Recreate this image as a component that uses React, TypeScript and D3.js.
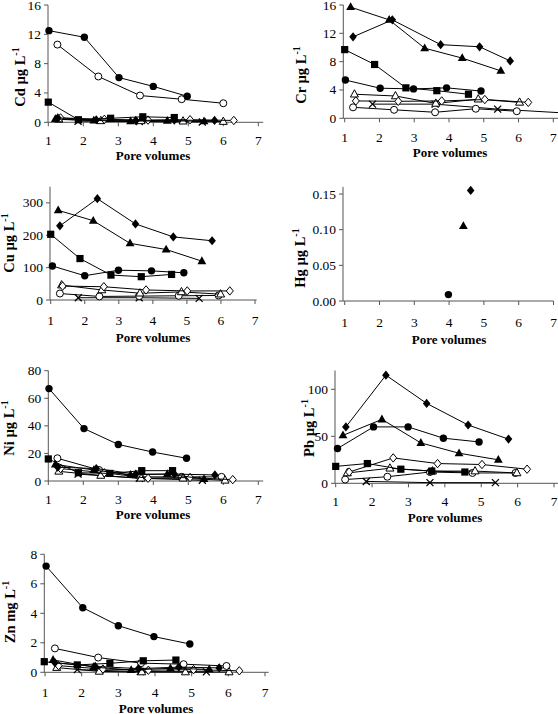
import React from 'react';
import * as d3 from 'd3';

type Pt = [number, number];
type Key = 'fc' | 'oc' | 'fs' | 'ft' | 'ot' | 'fd' | 'od' | 'x';

const poreTicks = [1, 2, 3, 4, 5, 6, 7];
const seriesOrder: Key[] = ['x', 'oc', 'ot', 'od', 'fs', 'fc', 'ft', 'fd'];

// ---- Cd (µg/L)
const cdData: Partial<Record<Key, Pt[]>> = {
  fc: [[1.02, 12.5], [2.03, 11.6], [3.02, 6.1], [4.0, 4.9], [4.97, 3.55]],
  oc: [[1.26, 10.6], [2.43, 6.25], [3.62, 3.65], [4.81, 3.15], [6.0, 2.6]],
  fs: [[1.0, 2.75], [1.86, 0.35], [2.78, 0.55], [3.7, 0.75], [4.6, 0.65]],
  ft: [[1.2, 0.45], [2.3, 0.25], [3.35, 0.15], [4.4, 0.2], [5.45, 0.15]],
  ot: [[1.3, 0.4], [2.5, 0.2], [3.65, 0.2], [4.85, 0.15], [6.0, 0.1]],
  fd: [[1.27, 0.6], [2.37, 0.35], [3.5, 0.25], [4.6, 0.3], [5.75, 0.25]],
  od: [[1.35, 0.6], [2.6, 0.4], [3.85, 0.3], [5.05, 0.35], [6.3, 0.25]],
  x: [[1.85, 0.15], [3.6, 0.1], [5.4, 0.05]],
};
const cdTicks = [0, 4, 8, 12, 16];

// ---- Cr (µg/L)
const crData: Partial<Record<Key, Pt[]>> = {
  ft: [[1.17, 15.7], [2.28, 13.9], [3.3, 9.9], [4.38, 8.5], [5.49, 6.7]],
  fd: [[1.24, 11.5], [2.37, 13.9], [3.76, 10.4], [4.88, 10.1], [5.76, 8.1]],
  fs: [[1.0, 9.7], [1.86, 7.6], [2.76, 4.3], [3.65, 3.9], [4.56, 3.4]],
  fc: [[1.02, 5.4], [2.02, 4.25], [2.98, 4.15], [3.93, 4.3], [4.92, 3.85]],
  ot: [[1.28, 3.4], [2.46, 3.15], [3.62, 2.1], [4.84, 2.7], [6.03, 2.25]],
  od: [[1.32, 2.45], [2.54, 2.4], [3.79, 2.45], [5.03, 2.65], [6.28, 2.25]],
  x: [[1.8, 2.0], [3.6, 2.0], [5.4, 1.3], [7.5, 0.7]],
  oc: [[1.24, 1.55], [2.42, 1.2], [3.6, 0.85], [4.77, 1.35], [5.95, 1.0]],
};
const crTicks = [0, 4, 8, 12, 16];

// ---- Cu (µg/L)
const cuData: Partial<Record<Key, Pt[]>> = {
  fd: [[1.27, 229], [2.37, 313], [3.49, 235], [4.6, 195], [5.74, 183]],
  ft: [[1.22, 277], [2.25, 245], [3.33, 175], [4.39, 156], [5.44, 120]],
  fs: [[1.0, 203], [1.86, 128], [2.77, 77], [3.66, 72], [4.55, 79]],
  fc: [[1.05, 105], [2.0, 75], [2.99, 92], [3.96, 90], [4.91, 84]],
  ot: [[1.32, 46], [2.5, 31], [3.62, 21], [4.84, 25], [5.99, 18]],
  od: [[1.35, 43], [2.56, 41], [3.8, 31], [5.01, 28], [6.26, 28]],
  oc: [[1.27, 20], [2.43, 11], [3.6, 12], [4.76, 13], [5.93, 14]],
  x: [[1.81, 7], [3.6, 7], [5.36, 5]],
};
const cuTicks = [0, 100, 200, 300];

// ---- Hg (µg/L)
const hgData: Partial<Record<Key, Pt[]>> = {
  fc: [[3.98, 0.009]],
  ft: [[4.41, 0.105]],
  fd: [[4.62, 0.155]],
};
const hgTicks = [0, 0.05, 0.1, 0.15];

// ---- Ni (µg/L)
const niData: Partial<Record<Key, Pt[]>> = {
  fc: [[1.02, 67], [2.02, 38], [3.0, 26.5], [3.98, 21], [4.95, 16.5]],
  oc: [[1.26, 16.5], [2.45, 8], [3.62, 3], [4.81, 3], [5.95, 3]],
  fs: [[1.0, 16], [1.86, 6], [2.76, 5.5], [3.67, 7.5], [4.55, 7.5]],
  ft: [[1.2, 12], [2.3, 8], [3.35, 4.5], [4.4, 5], [5.45, 1.5]],
  ot: [[1.3, 7], [2.5, 4], [3.65, 2], [4.85, 2], [6.05, 0.5]],
  fd: [[1.27, 10], [2.37, 9], [3.5, 5], [4.6, 5], [5.76, 4.4]],
  od: [[1.35, 9], [2.6, 6], [3.85, 2], [5.05, 2.5], [6.27, 1]],
  x: [[1.85, 5], [3.6, 2], [5.4, 0.5]],
};
const niTicks = [0, 20, 40, 60, 80];

// ---- Pb (µg/L)
const pbData: Partial<Record<Key, Pt[]>> = {
  fd: [[1.28, 60], [2.38, 115], [3.5, 85], [4.64, 62], [5.75, 47]],
  fc: [[1.05, 37], [2.04, 60], [2.99, 60], [3.96, 48], [4.94, 44]],
  ft: [[1.2, 51], [2.27, 68], [3.34, 43], [4.39, 32], [5.47, 25]],
  od: [[1.37, 12], [2.58, 27], [3.8, 21], [5.02, 20], [6.26, 15]],
  fs: [[1.0, 18], [1.87, 21], [2.79, 15], [3.64, 13], [4.55, 12]],
  ot: [[1.32, 11], [2.49, 16], [3.66, 13], [4.83, 13], [5.98, 11]],
  oc: [[1.26, 4], [2.42, 7], [3.59, 12], [4.76, 11], [5.94, 11]],
  x: [[1.84, 2], [3.59, 0.7], [5.39, 0.7]],
};
const pbTicks = [0, 50, 100];

// ---- Zn (mg/L)
const znData: Partial<Record<Key, Pt[]>> = {
  fc: [[1.03, 7.2], [2.03, 4.38], [3.0, 3.16], [3.97, 2.42], [4.95, 1.92]],
  oc: [[1.27, 1.62], [2.45, 1.0], [3.62, 0.62], [4.78, 0.55], [5.95, 0.43]],
  fs: [[0.98, 0.72], [1.88, 0.5], [2.77, 0.61], [3.68, 0.78], [4.57, 0.83]],
  ft: [[1.22, 0.84], [2.32, 0.35], [3.35, 0.16], [4.42, 0.27], [5.48, 0.2]],
  ot: [[1.32, 0.32], [2.48, 0.06], [3.64, 0.02], [4.83, 0.02], [6.02, 0.02]],
  fd: [[1.27, 0.65], [2.37, 0.4], [3.55, 0.25], [4.65, 0.35], [5.75, 0.3]],
  od: [[1.37, 0.45], [2.58, 0.22], [3.82, 0.14], [5.05, 0.18], [6.3, 0.1]],
  x: [[1.88, 0.18], [3.6, 0.05], [5.4, 0.03]],
};
const znTicks = [0, 2, 4, 6, 8];

interface Panel {
  el: string; unit: string; data: Partial<Record<Key, Pt[]>>; ticks: number[]; yMax: number; fmt: (v: number) => string;
  x1: number; x7: number; axX: number; y0: number; yTop: number; xEnd: number;
  labX: number; labY: number; pvX: number; pvY: number; tlY: number;
}

const plain = (v: number) => String(v);
const panels: Panel[] = [
  { el: 'Cd', unit: 'µg', data: cdData, ticks: cdTicks, yMax: 16, fmt: plain, x1: 48.3, x7: 258.3, axX: 48, y0: 122.3, yTop: 5, xEnd: 7.14, labX: 20, labY: 77, pvX: 153, pvY: 155, tlY: 140.8 },
  { el: 'Cr', unit: 'µg', data: crData, ticks: crTicks, yMax: 16, fmt: plain, x1: 344.7, x7: 553.3, axX: 343.3, y0: 118.3, yTop: 5, xEnd: 7.2, labX: 301, labY: 75, pvX: 450, pvY: 152, tlY: 137 },
  { el: 'Cu', unit: 'µg', data: cuData, ticks: cuTicks, yMax: 350, fmt: plain, x1: 50.7, x7: 255, axX: 50, y0: 300, yTop: 186.7, xEnd: 7.05, labX: 8.5, labY: 243, pvX: 153, pvY: 337, tlY: 320.5 },
  { el: 'Hg', unit: 'µg', data: hgData, ticks: hgTicks, yMax: 0.16, fmt: d3.format('.2f'), x1: 344.7, x7: 553.5, axX: 343, y0: 301, yTop: 186.9, xEnd: 7.0, labX: 300, labY: 258, pvX: 449, pvY: 339.5, tlY: 322.5 },
  { el: 'Ni', unit: 'µg', data: niData, ticks: niTicks, yMax: 80, fmt: plain, x1: 48.3, x7: 258.3, axX: 48.3, y0: 481, yTop: 370.7, xEnd: 7.14, labX: 8.5, labY: 428, pvX: 153, pvY: 514.5, tlY: 499 },
  { el: 'Pb', unit: 'µg', data: pbData, ticks: pbTicks, yMax: 120, fmt: plain, x1: 335.7, x7: 554, axX: 335, y0: 483.3, yTop: 370.5, xEnd: 7.2, labX: 309, labY: 428, pvX: 445, pvY: 517.5, tlY: 501.7 },
  { el: 'Zn', unit: 'mg', data: znData, ticks: znTicks, yMax: 8, fmt: plain, x1: 45, x7: 265, axX: 44.3, y0: 672.3, yTop: 554.3, xEnd: 7.1, labX: 9.5, labY: 612, pvX: 156, pvY: 708.5, tlY: 692.5 },
];

function Marker({ k, cx, cy }: { k: Key; cx: number; cy: number }) {
  const s = 'black';
  switch (k) {
    case 'fc': return <circle cx={cx} cy={cy} r={3.7} fill={s} />;
    case 'oc': return <circle cx={cx} cy={cy} r={3.5} fill="white" stroke={s} strokeWidth={1} />;
    case 'fs': return <rect x={cx - 3.6} y={cy - 3.6} width={7.2} height={7.2} fill={s} />;
    case 'ft': return <path d={`M${cx},${cy - 4.8}L${cx + 4.4},${cy + 3}L${cx - 4.4},${cy + 3}Z`} fill={s} />;
    case 'ot': return <path d={`M${cx},${cy - 4.5}L${cx + 4},${cy + 2.8}L${cx - 4},${cy + 2.8}Z`} fill="white" stroke={s} strokeWidth={1} />;
    case 'fd': return <path d={`M${cx},${cy - 4.6}L${cx + 3.8},${cy}L${cx},${cy + 4.6}L${cx - 3.8},${cy}Z`} fill={s} />;
    case 'od': return <path d={`M${cx},${cy - 4.2}L${cx + 3.5},${cy}L${cx},${cy + 4.2}L${cx - 3.5},${cy}Z`} fill="white" stroke={s} strokeWidth={1} />;
    case 'x': return <path d={`M${cx - 3.5},${cy - 3.5}L${cx + 3.5},${cy + 3.5}M${cx - 3.5},${cy + 3.5}L${cx + 3.5},${cy - 3.5}`} stroke={s} strokeWidth={1.3} />;
  }
}

function PanelView({ p }: { p: Panel }) {
  const x = d3.scaleLinear().domain([1, 7]).range([p.x1, p.x7]);
  const y = d3.scaleLinear().domain([0, p.yMax]).range([p.y0, p.yTop]);
  const line = d3.line<Pt>().x(d => x(d[0])).y(d => y(d[1]));
  const axisColor = '#555';
  const font = '"Liberation Serif", "Times New Roman", serif';
  return (
    <g>
      <line x1={p.axX} x2={p.axX} y1={p.y0} y2={p.yTop} stroke={axisColor} strokeWidth={1} />
      <line x1={p.axX} x2={x(p.xEnd)} y1={p.y0} y2={p.y0} stroke={axisColor} strokeWidth={1} />
      {p.ticks.map(t => (
        <g key={'yt' + t}>
          <line x1={p.axX - 4} x2={p.axX} y1={y(t)} y2={y(t)} stroke={axisColor} />
          <text x={p.axX - 7} y={Math.max(y(t) + 4.5, 10)} textAnchor="end" fontFamily={font} fontSize={13.5}>{p.fmt(t)}</text>
        </g>
      ))}
      {poreTicks.map(t => (
        <g key={'xt' + t}>
          <line x1={x(t)} x2={x(t)} y1={p.y0} y2={p.y0 + 4} stroke={axisColor} />
          <text x={x(t)} y={p.tlY + 4.5} textAnchor="middle" fontFamily={font} fontSize={13.5}>{t}</text>
        </g>
      ))}
      <text x={p.pvX} y={p.pvY + 4.5} textAnchor="middle" fontFamily={font} fontSize={13} fontWeight="bold">Pore volumes</text>
      <text transform={`translate(${p.labX},${p.labY}) rotate(-90)`} y={5} textAnchor="middle" fontFamily={font} fontSize={14.5} fontWeight="bold">
        {p.el} {p.unit} L<tspan dy={-6} fontSize={10}>-1</tspan>
      </text>
      {seriesOrder.map(k => {
        const pts = p.data[k];
        if (!pts) return null;
        return (
          <g key={k}>
            {pts.length > 1 && <path d={line(pts) || ''} fill="none" stroke="black" strokeWidth={1} />}
            {pts.map((d, i) => <Marker key={i} k={k} cx={x(d[0])} cy={y(d[1])} />)}
          </g>
        );
      })}
    </g>
  );
}

export default function App() {
  return (
    <svg width={558} height={714} style={{ position: 'absolute', left: 0, top: 0, background: 'white' }}>
      <rect width={558} height={714} fill="white" />
      {panels.map(p => <PanelView key={p.el} p={p} />)}
    </svg>
  );
}
